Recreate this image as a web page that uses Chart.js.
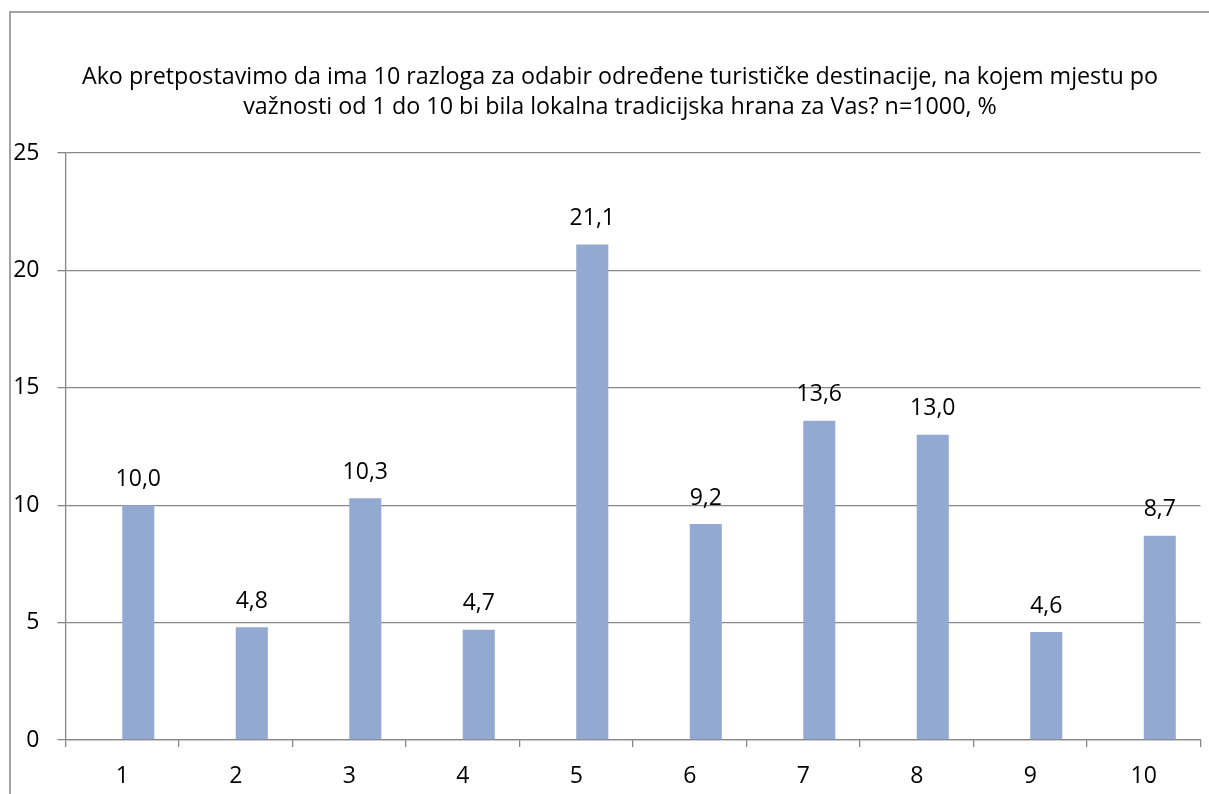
<!DOCTYPE html>
<html>
<head>
<meta charset="utf-8">
<script src="https://cdn.jsdelivr.net/npm/chart.js@4/dist/chart.umd.min.js"></script>
<style>
  html, body { margin: 0; padding: 0; background: #fff; overflow: hidden; }
  #wrap { position: absolute; left: 0; top: 0; width: 1209px; height: 794px; }
</style>
</head>
<body>
<div id="wrap"><canvas id="myChart" width="1209" height="794"></canvas></div>
<script>
const categories = ["1", "2", "3", "4", "5", "6", "7", "8", "9", "10"];
const values = [10.0, 4.8, 10.3, 4.7, 21.1, 9.2, 13.6, 13.0, 4.6, 8.7];
const emptySeries = [null, null, null, null, null, null, null, null, null, null];
const titleLines = [
  "Ako pretpostavimo da ima 10 razloga za odabir određene turističke destinacije, na kojem mjestu po",
  "važnosti od 1 do 10 bi bila lokalna tradicijska hrana za Vas? n=1000, %",
];

const FONT = "'Open Sans', 'Liberation Sans', sans-serif";
const GRAY = "#878787";

// outer frame (only top + left are visible) and the title
const framePlugin = {
  id: "frame",
  beforeDraw(chart) {
    const ctx = chart.ctx;
    ctx.save();
    ctx.fillStyle = "#fff";
    ctx.fillRect(0, 0, chart.width, chart.height);
    ctx.strokeStyle = GRAY;
    ctx.lineWidth = 1.5;
    ctx.beginPath();
    ctx.moveTo(10, chart.height + 5);
    ctx.lineTo(10, 12);
    ctx.lineTo(chart.width + 5, 12);
    ctx.stroke();
    ctx.fillStyle = "#000";
    ctx.font = "23.3px " + FONT;
    ctx.textAlign = "center";
    ctx.textBaseline = "middle";
    ctx.fillText(titleLines[0], 620, 77);
    ctx.fillText(titleLines[1], 620, 107);
    ctx.restore();
  },
  afterDraw(chart) {
    // nothing belongs right of the plot area
    const ctx = chart.ctx;
    ctx.save();
    ctx.fillStyle = "#fff";
    ctx.fillRect(1203, 16, 20, chart.height);
    ctx.restore();
  },
};

const labelPlugin = {
  id: "barLabels",
  afterDatasetsDraw(chart) {
    const ctx = chart.ctx;
    const meta = chart.getDatasetMeta(1);
    ctx.save();
    ctx.fillStyle = "#000";
    ctx.font = "23px " + FONT;
    ctx.textAlign = "center";
    ctx.textBaseline = "middle";
    meta.data.forEach((bar, i) => {
      const txt = values[i].toFixed(1).replace(".", ",");
      ctx.fillText(txt, bar.x, bar.y - 26);
    });
    ctx.restore();
  },
};

let ctx1 = document.getElementById("myChart");
new Chart(ctx1, {
  type: "bar",
  data: {
    labels: categories,
    datasets: [
      {
        label: "prazno",
        data: emptySeries,
        backgroundColor: "#94a9d2",
      },
      {
        label: "%",
        data: values,
        backgroundColor: "#94a9d2",
      },
    ],
  },
  options: {
    responsive: false,
    animation: false,
    categoryPercentage: 0.565,
    barPercentage: 1.0,
    layout: {
      padding: { top: 153, left: 0, right: 8.5, bottom: 0 },
    },
    plugins: {
      legend: { display: false },
      tooltip: { enabled: false },
      title: { display: false },
    },
    scales: {
      x: {
        grid: {
          offset: true,
          drawOnChartArea: false,
          drawTicks: true,
          tickLength: 7,
          color: GRAY,
          lineWidth: 1.3,
        },
        border: { color: GRAY, width: 1.3 },
        ticks: {
          color: "#000",
          font: { family: FONT, size: 23 },
          padding: 16,
          maxRotation: 0,
        },
        afterFit(scale) {
          scale.height = 54;
        },
      },
      y: {
        min: 0,
        max: 25,
        grid: {
          color: GRAY,
          lineWidth: 1.3,
          drawTicks: true,
          tickLength: 8,
        },
        border: { color: GRAY, width: 1.3 },
        ticks: {
          stepSize: 5,
          color: "#000",
          font: { family: FONT, size: 23 },
          padding: 18,
        },
        afterFit(scale) {
          scale.width = 65.5;
        },
      },
    },
  },
  plugins: [framePlugin, labelPlugin],
});
</script>
</body>
</html>
